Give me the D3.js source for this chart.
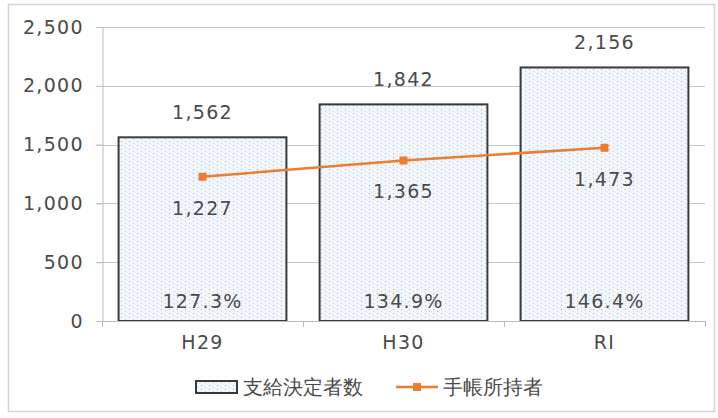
<!DOCTYPE html>
<html>
<head>
<meta charset="utf-8">
<script src="https://cdn.jsdelivr.net/npm/d3@7"></script>
<style>
  html, body { margin: 0; padding: 0; background: #fff; }
  svg { display: block; }
  text { font-family: "DejaVu Sans", Verdana, sans-serif; fill: #4a4a4a; }
  .num { letter-spacing: 1.3px; }
</style>
</head>
<body>
<svg id="chart" width="718" height="418"></svg>
<script>
// Fiscal years
const categories = ["H29", "H30", "RI"];
// 支給決定者数 (bars)
const decisionCounts = [1562, 1842, 2156];
// 手帳所持者 (line)
const holderCounts = [1227, 1365, 1473];
// Y axis ticks
const yTicks = [0, 500, 1000, 1500, 2000, 2500];
const seriesNames = ["支給決定者数", "手帳所持者"];

const svg = d3.select("#chart");
const plot = { left: 102, right: 705, top: 27, bottom: 321 };
const orange = "#ed7d31";
const fs = 19;

// dotted fill for the bars
const defs = svg.append("defs");
const pat = defs.append("pattern")
  .attr("id", "dots").attr("patternUnits", "userSpaceOnUse")
  .attr("width", 8).attr("height", 4);
pat.append("rect").attr("width", 8).attr("height", 4).attr("fill", "#f1f6fc");
pat.append("rect").attr("x", 1).attr("y", 1).attr("width", 1).attr("height", 1).attr("fill", "#aab5c2");
pat.append("rect").attr("x", 5).attr("y", 3).attr("width", 1).attr("height", 1).attr("fill", "#c6cfd9");

// outer frame
svg.append("rect")
  .attr("x", 8.5).attr("y", 4.5).attr("width", 706).attr("height", 407)
  .attr("fill", "#fff").attr("stroke", "#d4d4d4").attr("stroke-width", 1.5);

const x = d3.scaleBand().domain(categories)
  .range([plot.left, plot.right]).paddingInner(0.165).paddingOuter(0.0825);
const y = d3.scaleLinear().domain([0, 2500]).range([plot.bottom, plot.top]);

// gridlines
svg.append("g").selectAll("line").data(yTicks.filter(d => d > 0)).join("line")
  .attr("x1", plot.left - 6).attr("x2", plot.right)
  .attr("y1", d => Math.round(y(d)) + 0.5).attr("y2", d => Math.round(y(d)) + 0.5)
  .attr("stroke", "#c8c8c8").attr("stroke-width", 1.2);

// y axis
const yAxis = svg.append("g")
  .attr("transform", `translate(${plot.left + 0.5},0)`)
  .call(d3.axisLeft(y).tickValues(yTicks).tickSize(6).tickPadding(14).tickFormat(d3.format(",")));
yAxis.select(".domain").attr("stroke", "#bdbdbd");
yAxis.selectAll(".tick line").attr("stroke", "#bdbdbd");
yAxis.selectAll("text").attr("font-size", fs).attr("fill", "#4a4a4a")
  .attr("font-family", "DejaVu Sans").attr("class", "num").attr("dx", 1.3);

// bars
svg.append("g").selectAll("rect").data(categories).join("rect")
  .attr("x", d => x(d))
  .attr("y", (d, i) => y(decisionCounts[i]))
  .attr("width", x.bandwidth())
  .attr("height", (d, i) => y(0) - y(decisionCounts[i]))
  .attr("fill", "url(#dots)")
  .attr("stroke", "#3a3a3a").attr("stroke-width", 2);

// x axis
const xAxis = svg.append("g")
  .attr("transform", `translate(0,${plot.bottom + 0.5})`)
  .call(d3.axisBottom(x).tickSize(0).tickPadding(14));
xAxis.select(".domain").attr("stroke", "#bdbdbd").attr("d", `M${plot.left},0H${plot.right}`);
xAxis.selectAll("text").attr("font-size", fs).attr("fill", "#4a4a4a")
  .attr("font-family", "DejaVu Sans").attr("class", "num");
// category separators
svg.append("g").selectAll("line").data([0, 1, 2, 3]).join("line")
  .attr("x1", i => plot.left + i * x.step() + 0.5).attr("x2", i => plot.left + i * x.step() + 0.5)
  .attr("y1", plot.bottom).attr("y2", plot.bottom + 6)
  .attr("stroke", "#bdbdbd");

// bar value labels
const fmt = d3.format(",");
svg.append("g").selectAll("text").data(categories).join("text")
  .attr("class", "num")
  .attr("x", d => x(d) + x.bandwidth() / 2)
  .attr("y", (d, i) => y(decisionCounts[i]) - 18)
  .attr("text-anchor", "middle").attr("font-size", fs)
  .text((d, i) => fmt(decisionCounts[i]));

// ratio labels near the bar bottoms
svg.append("g").selectAll("text").data(categories).join("text")
  .attr("class", "num")
  .attr("x", d => x(d) + x.bandwidth() / 2)
  .attr("y", y(0) - 13)
  .attr("text-anchor", "middle").attr("font-size", fs)
  .text((d, i) => d3.format(".1%")(decisionCounts[i] / holderCounts[i]));

// line series
const line = d3.line()
  .x((d, i) => x(categories[i]) + x.bandwidth() / 2)
  .y(d => y(d));
svg.append("path").datum(holderCounts)
  .attr("d", line).attr("fill", "none")
  .attr("stroke", orange).attr("stroke-width", 2.5);
svg.append("g").selectAll("rect").data(holderCounts).join("rect")
  .attr("x", (d, i) => x(categories[i]) + x.bandwidth() / 2 - 4)
  .attr("y", d => y(d) - 4)
  .attr("width", 8).attr("height", 8)
  .attr("fill", orange);
svg.append("g").selectAll("text").data(holderCounts).join("text")
  .attr("class", "num")
  .attr("x", (d, i) => x(categories[i]) + x.bandwidth() / 2)
  .attr("y", d => y(d) + 38)
  .attr("text-anchor", "middle").attr("font-size", fs)
  .text(d => fmt(d));

// legend
const lg = svg.append("g");
const ly = 387;
lg.append("rect").attr("x", 196).attr("y", ly - 6).attr("width", 41).attr("height", 12)
  .attr("fill", "url(#dots)").attr("stroke", "#3a3a3a").attr("stroke-width", 2);
lg.append("text").attr("x", 243).attr("y", ly + 7).attr("font-size", 20)
  .attr("font-family", "Noto Sans CJK JP").text(seriesNames[0]);
lg.append("line").attr("x1", 396).attr("x2", 438).attr("y1", ly).attr("y2", ly)
  .attr("stroke", orange).attr("stroke-width", 2.5);
lg.append("rect").attr("x", 413).attr("y", ly - 4).attr("width", 8).attr("height", 8).attr("fill", orange);
lg.append("text").attr("x", 443).attr("y", ly + 7).attr("font-size", 20)
  .attr("font-family", "Noto Sans CJK JP").text(seriesNames[1]);
</script>
</body>
</html>
